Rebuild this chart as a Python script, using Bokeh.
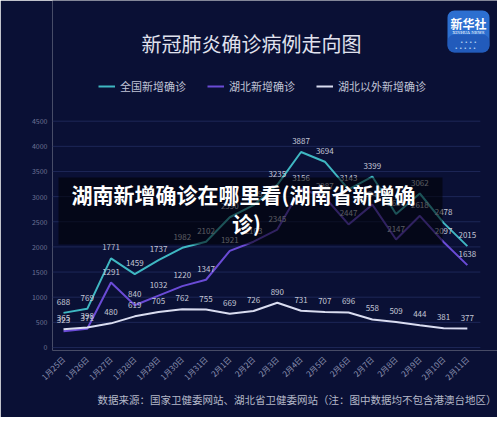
import math
from bokeh.plotting import figure
from bokeh.models import (Range1d, FixedTicker, Label, Legend, LegendItem,
                          BoxAnnotation, Title)
from bokeh.embed import file_html
from bokeh.resources import INLINE
from bokeh.core.properties import value

# ---------------- data ----------------
dates = ["1月25日", "1月26日", "1月27日", "1月28日", "1月29日", "1月30日",
         "1月31日", "2月1日", "2月2日", "2月3日", "2月4日", "2月5日",
         "2月6日", "2月7日", "2月8日", "2月9日", "2月10日", "2月11日"]
national = [688, 769, 1771, 1459, 1737, 1982, 2102, 2590, 2829, 3235,
            3887, 3694, 3143, 3399, 2656, 3062, 2478, 2015]
hubei = [323, 371, 1291, 840, 1032, 1220, 1347, 1921, 2103, 2345,
         3156, 2987, 2447, 2841, 2147, 2618, 2097, 1638]
outside = [365, 398, 480, 619, 705, 762, 755, 669, 726, 890,
           731, 707, 696, 558, 509, 444, 381, 377]
y_ticks = [0, 500, 1000, 1500, 2000, 2500, 3000, 3500, 4000, 4500]
series_names = ["全国新增确诊", "湖北新增确诊", "湖北以外新增确诊"]
title_text = "新冠肺炎确诊病例走向图"
source_text = "数据来源：国家卫健委网站、湖北省卫健委网站（注：图中数据均不包含港澳台地区）"
overlay_line1 = "湖南新增确诊在哪里看(湖南省新增确"
overlay_line2 = "诊)"

# ---------------- style ----------------
BG = "#0a1035"
GRID = "#1d2757"
TEAL = "#3fb7c2"
PURPLE = "#6a4bd6"
WHITE = "#d9dcf0"
LABEL = "#c4c7d6"
FONT = "Noto Sans CJK SC"

x = list(range(len(dates)))
X0, X1 = -0.463, 18.27          # frame spans the full width right of the y axis
p = figure(width=497, height=417, output_backend="svg", toolbar_location=None,
           title=None,
           x_range=Range1d(X0, X1), y_range=Range1d(-60, 6900),
           min_border_left=52, min_border_right=0,
           min_border_top=0, min_border_bottom=67,
           background_fill_color=BG, border_fill_color=BG,
           outline_line_color=None)
p.xaxis.ticker = FixedTicker(ticks=x)
p.xaxis.major_label_overrides = {i: d for i, d in enumerate(dates)}
p.xaxis.major_label_orientation = math.pi / 4
p.xaxis.major_label_text_font = FONT
p.xaxis.major_label_text_font_size = "8px"
p.xaxis.major_label_text_color = "#8a90b0"
p.xaxis.major_label_standoff = 7
p.yaxis.ticker = FixedTicker(ticks=y_ticks)
p.yaxis.major_label_text_font = FONT
p.yaxis.major_label_text_font_size = "7px"
p.yaxis.major_label_text_color = "#6c7294"
p.yaxis.major_label_standoff = 5
for ax in (p.xaxis, p.yaxis):
    ax.axis_line_color = None
    ax.major_tick_line_color = None
    ax.minor_tick_line_color = None
    ax.major_tick_out = 0
    ax.major_tick_in = 0
    ax.minor_tick_out = 0
    ax.minor_tick_in = 0
p.grid.visible = False

# horizontal grid lines at the y ticks, spanning only the chart area
p.segment(x0=[-0.463] * len(y_ticks), x1=[17.547] * len(y_ticks),
          y0=y_ticks, y1=y_ticks, line_color=GRID, line_width=1)

r1 = p.line(x, national, line_color=TEAL, line_width=2)
r2 = p.line(x, hubei, line_color=PURPLE, line_width=2)
r3 = p.line(x, outside, line_color=WHITE, line_width=2)

for ys in (national, hubei, outside):
    p.text(x=x, y=ys, text=[str(v) for v in ys], text_font=value(FONT),
           text_font_size="8px", text_color=LABEL, text_align="center",
           text_baseline="middle", y_offset=-11)

# screen coords below are measured from the frame's bottom-left corner


def lab(xs, ys, text, size, color, font=FONT, style="normal"):
    p.add_layout(Label(x=xs, y=ys, x_units="screen", y_units="screen",
                       text=text, text_align="center", text_baseline="middle",
                       text_font=font, text_font_size=size,
                       text_font_style=style, text_color=color))


def box(left, right, top, bottom, color, alpha, radius=0):
    p.add_layout(BoxAnnotation(left=left, right=right, top=top, bottom=bottom,
                               left_units="screen", right_units="screen",
                               top_units="screen", bottom_units="screen",
                               fill_color=color, fill_alpha=alpha,
                               line_color=None, border_radius=radius))


# title
lab(199, 307, title_text, "20px", "#e0e2ee")

# legend
legend = Legend(items=[LegendItem(label=series_names[0], renderers=[r1]),
                       LegendItem(label=series_names[1], renderers=[r2]),
                       LegendItem(label=series_names[2], renderers=[r3])],
                orientation="horizontal", location=(46, 256),
                background_fill_alpha=0, border_line_color=None,
                label_text_color="#c0c4d6", label_text_font=FONT,
                label_text_font_size="11px", glyph_width=17, glyph_height=12,
                label_standoff=5, spacing=21, padding=0, margin=0)
p.add_layout(legend)

# logo
box(395, 437, 340, 298, "#2c6fd0", 1, 7)
box(395, 437, 316, 298, "#1d4fae", 0.6, 7)
lab(416, 327, "新华社", "12px", "white", style="bold")
lab(416, 318, "XINHUA NEWS", "4px", "white", font="DejaVu Serif")
lab(416, 309, "• • • •", "5px", "#d6e8ff", font="DejaVu Sans")
lab(416, 303, "•  •  •  •  •", "5px", "#d6e8ff", font="DejaVu Sans")

# overlay box + text
box(6, 390, 173, 106, "black", 0.55)
lab(191, 157, overlay_line1, "21px", "white", style="bold")
lab(194, 128, overlay_line2, "21px", "white", style="bold")

# source note
p.add_layout(Title(text=source_text, align="left", offset=45,
                   text_font=FONT, text_font_size="10.5px",
                   text_font_style="normal", text_color="#b4b8c8",
                   standoff=1), "below")

open("out.html", "w").write(file_html(p, INLINE))
